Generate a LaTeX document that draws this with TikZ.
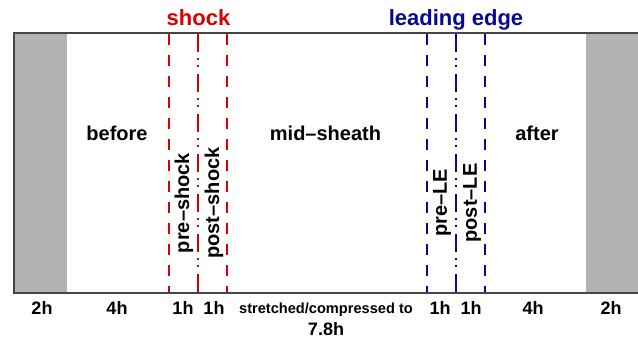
\documentclass[tikz,border=0pt]{standalone}
\usepackage{fontspec}
\setmainfont{Liberation Sans}
\definecolor{shockred}{RGB}{218,0,0}
\definecolor{lenavy}{RGB}{8,8,145}
\definecolor{boxgray}{RGB}{179,179,179}
\definecolor{framegray}{RGB}{70,70,70}
\begin{document}
\begin{tikzpicture}[x=1pt,y=-1pt,
  lbl/.style={font=\bfseries\fontsize{20}{20}\selectfont, anchor=base, inner sep=0pt},
  ttl/.style={font=\bfseries\fontsize{22}{22}\selectfont, anchor=base, inner sep=0pt},
  dim/.style={font=\bfseries\fontsize{18}{18}\selectfont, anchor=base, inner sep=0pt},
  small/.style={font=\bfseries\fontsize{14.6}{14.6}\selectfont, anchor=base, inner sep=0pt},
  rot/.style={font=\bfseries\fontsize{20}{20}\selectfont, rotate=90, inner sep=0pt},
  edgeline/.style={line width=2pt, dash pattern=on 11pt off 10pt},
  midline/.style={line width=2pt, dash pattern=on 18pt off 6pt on 2pt off 5pt on 2pt off 7pt},
]
\useasboundingbox (0,0) rectangle (638,340);
% grey margins
\fill[boxgray] (14,33) rectangle (67,293);
\fill[boxgray] (586,33) rectangle (638,293);
% frame
\draw[framegray, line width=1.6pt] (638,33) -- (14,33) -- (14,293) -- (638,293);
% shock lines
\draw[shockred, edgeline] (169,34) -- (169,292);
\draw[shockred, midline] (198,34) -- (198,292);
\draw[shockred, edgeline] (227,34) -- (227,292);
% leading edge lines
\draw[lenavy, edgeline] (427,34) -- (427,292);
\draw[lenavy, midline] (456,34) -- (456,292);
\draw[lenavy, edgeline] (485,34) -- (485,292);
% titles
\node[ttl, text=shockred] (tshock) at (198.5,26) {shock};
\node[ttl, text=lenavy] (tle) at (456,26) {leading edge};
% region labels
\node[lbl] (before) at (117,140) {before};
\node[lbl] (mid) at (325.5,140) {mid–sheath};
\node[lbl] (after) at (537,140) {after};
% rotated labels
\node[rot] (preshock) at (184,203) {pre–shock};
\node[rot] (postshock) at (214,203) {post–shock};
\node[rot] (prele) at (442,203) {pre–LE};
\node[rot] (postle) at (472,203) {post–LE};
% dimensions
\node[dim] (d1) at (42,314) {2h};
\node[dim] (d2) at (117,314) {4h};
\node[dim] (d3) at (183,314) {1h};
\node[dim] (d4) at (214,314) {1h};
\node[small] (d5) at (326,313) {stretched/compressed to};
\node[dim] (d6) at (326,335) {7.8h};
\node[dim] (d7) at (440,314) {1h};
\node[dim] (d8) at (471,314) {1h};
\node[dim] (d9) at (533,314) {4h};
\node[dim] (d10) at (611,314) {2h};
\end{tikzpicture}
\end{document}
